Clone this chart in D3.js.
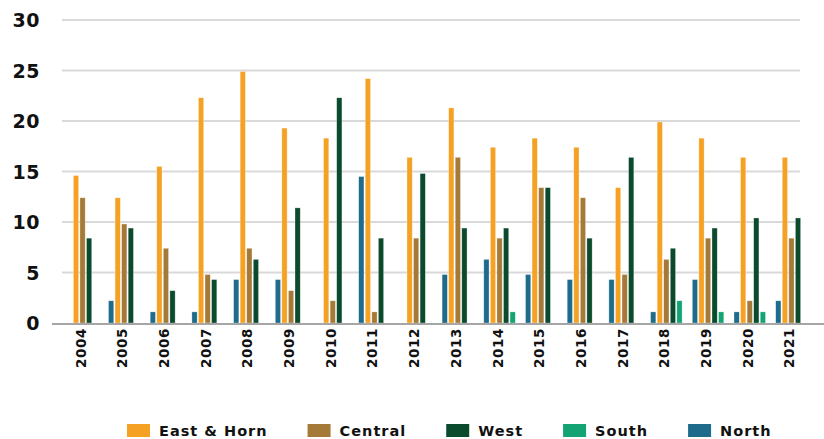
<!DOCTYPE html>
<html>
<head>
<meta charset="utf-8">
<script src="https://cdn.jsdelivr.net/npm/d3@7"></script>
<style>
  html, body { margin: 0; padding: 0; background: #fff; }
  svg { display: block; font-family: "DejaVu Sans", "Open Sans", sans-serif; }
</style>
</head>
<body>
<svg id="chart" width="824" height="439"></svg>
<script>
const years = ["2004","2005","2006","2007","2008","2009","2010","2011","2012","2013","2014","2015","2016","2017","2018","2019","2020","2021"];
const barOrder = ["North","East & Horn","Central","West","South"];
const legendOrder = ["East & Horn","Central","West","South","North"];
const yTicks = [0, 5, 10, 15, 20, 25, 30];

const eastHorn = [14.6,12.4,15.5,22.3,24.9,19.3,18.3,24.2,16.4,21.3,17.4,18.3,17.4,13.4,19.9,18.3,16.4,16.4];
const central  = [12.4, 9.8, 7.4, 4.8, 7.4, 3.2, 2.2, 1.1, 8.4,16.4, 8.4,13.4,12.4, 4.8, 6.3, 8.4, 2.2, 8.4];
const west     = [ 8.4, 9.4, 3.2, 4.3, 6.3,11.4,22.3, 8.4,14.8, 9.4, 9.4,13.4, 8.4,16.4, 7.4, 9.4,10.4,10.4];
const south    = [ 0,   0,   0,   0,   0,   0,   0,   0,   0,   0,   1.1, 0,   0,   0,   2.2, 1.1, 1.1, 0  ];
const north    = [ 0,   2.2, 1.1, 1.1, 4.3, 4.3, 0,  14.5, 0,   4.8, 6.3, 4.8, 4.3, 4.3, 1.1, 4.3, 1.1, 2.2];

const seriesValues = {"East & Horn": eastHorn, "Central": central, "West": west, "South": south, "North": north};
const colors = {"East & Horn": "#F5A124", "Central": "#A57A38", "West": "#0B4B2D", "South": "#14A474", "North": "#1E6B8B"};

const svg = d3.select("#chart");

const x0 = d3.scaleBand().domain(years).range([61.7, 812.3]).padding(0);
const x1 = d3.scaleBand().domain(barOrder).range([-15.75, 15.75]).paddingInner(0.2).paddingOuter(0);
const y = d3.scaleLinear().domain([0, 30]).range([323, 20]);

// gridlines
svg.append("g").selectAll("line").data(yTicks.filter(d => d > 0)).join("line")
  .attr("x1", 62).attr("x2", 800)
  .attr("y1", d => y(d)).attr("y2", d => y(d))
  .attr("stroke", "#d9d9d9").attr("stroke-width", 2);

// y tick labels
svg.append("g").selectAll("text").data(yTicks).join("text")
  .attr("x", 40).attr("y", d => y(d))
  .attr("text-anchor", "end").attr("dominant-baseline", "central")
  .attr("font-size", 19).attr("font-weight", 700).attr("fill", "#111")
  .attr("letter-spacing", 0.5)
  .text(d => d);

// bars
const groups = svg.append("g").selectAll("g").data(years).join("g")
  .attr("transform", d => `translate(${x0(d) + x0.bandwidth() / 2},0)`);

groups.selectAll("rect")
  .data((yr, i) => barOrder.map(s => ({s, v: seriesValues[s][i]})).filter(d => d.v > 0))
  .join("rect")
  .attr("x", d => x1(d.s))
  .attr("width", x1.bandwidth())
  .attr("y", d => y(d.v))
  .attr("height", d => y(0) - y(d.v))
  .attr("fill", d => colors[d.s])
  .attr("stroke", "rgba(255,255,255,0.5)").attr("stroke-width", 0.6);

// baseline
svg.append("line")
  .attr("x1", 52).attr("x2", 824)
  .attr("y1", y(0) + 1).attr("y2", y(0) + 1)
  .attr("stroke", "#a6a6a6").attr("stroke-width", 2);

// year labels
svg.append("g").selectAll("text").data(years).join("text")
  .attr("transform", d => `translate(${x0(d) + x0.bandwidth() / 2 - 2},368) rotate(-90)`)
  .attr("text-anchor", "start").attr("dominant-baseline", "central")
  .attr("font-size", 13.5).attr("font-weight", 700).attr("fill", "#111")
  .attr("letter-spacing", 0.6)
  .text(d => d);

// legend
const legend = svg.append("g");
let lx = 127;
legendOrder.forEach(s => {
  const item = legend.append("g").attr("transform", `translate(${lx},0)`);
  item.append("rect").attr("x", 0).attr("y", 424).attr("width", 23).attr("height", 13).attr("fill", colors[s]);
  const t = item.append("text").attr("x", 32).attr("y", 430.5)
    .attr("dominant-baseline", "central")
    .attr("font-size", 14.5).attr("font-weight", 700).attr("fill", "#111")
    .attr("letter-spacing", 1)
    .text(s);
  lx += 32 + t.node().getComputedTextLength() + 40;
});
</script>
</body>
</html>
